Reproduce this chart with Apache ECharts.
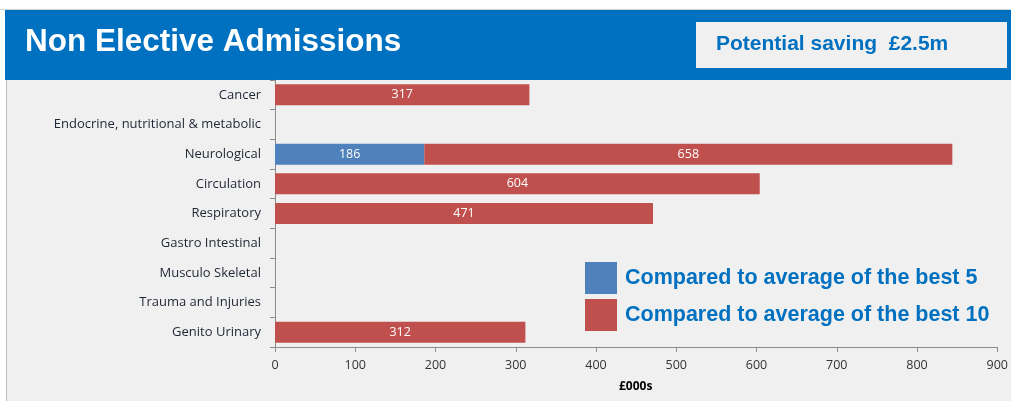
<!DOCTYPE html>
<html><head><meta charset="utf-8">
<script src="https://cdn.jsdelivr.net/npm/echarts@6/dist/echarts.min.js"></script>
<style>html,body{margin:0;padding:0;background:#fff;}#c{width:1011px;height:401px;}</style>
</head><body><div id="c"></div>
<script>
const categories = ["Cancer","Endocrine, nutritional & metabolic","Neurological","Circulation","Respiratory","Gastro Intestinal","Musculo Skeletal","Trauma and Injuries","Genito Urinary"];
const best5 = [null, null, 186, null, null, null, null, null, null];
const best10 = [317, null, 658, 604, 471, null, null, null, 312];
const seriesNames = ["Compared to average of the best 5","Compared to average of the best 10"];
const title = "Non Elective Admissions";
const saving = "Potential saving  £2.5m";
const axisName = "£000s";

const chart = echarts.init(document.getElementById('c'), null, {renderer:'canvas'});
const labelStyle = {show:true, position:'inside', color:'#fff', fontSize:12.5, fontFamily:'"Open Sans", sans-serif'};
chart.setOption({
  animation:false,
  backgroundColor:'#fff',
  graphic:[
    {type:'rect', left:6, top:80, shape:{width:1005, height:321}, style:{fill:'#f0f0f0'}, z:-10},
    {type:'rect', left:6, top:80, shape:{width:1, height:321}, style:{fill:'#bfbfbf'}, z:-9},
    {type:'rect', left:0, top:9, shape:{width:1011, height:1}, style:{fill:'#d0d0d0'}, z:-9},
    {type:'rect', left:5, top:10, shape:{width:1006, height:70}, style:{fill:'#0070c0'}, z:-8},
    {type:'text', left:25, top:26, style:{text:title, fill:'#fff', font:'bold 31.5px "Liberation Sans", Arial, sans-serif'}},
    {type:'rect', left:696, top:22, shape:{width:311, height:46}, style:{fill:'#f0f0f0'}},
    {type:'text', left:716, top:34, style:{text:saving, fill:'#0070c0', font:'bold 21px "Liberation Sans", Arial, sans-serif'}},
    {type:'text', left:619, top:381, style:{text:axisName, fill:'#000', font:'bold 12px "Open Sans", sans-serif'}}
  ],
  legend:{
    orient:'vertical', left:585, top:262, itemWidth:32, itemHeight:32, itemGap:5, padding:0,
    icon:'rect',
    textStyle:{color:'#0070c0', fontSize:21.5, fontWeight:'bold', fontFamily:'"Liberation Sans", Arial, sans-serif', padding:[0,0,0,3]},
    data:seriesNames
  },
  grid:{left:275, right:13, top:80, bottom:54, containLabel:false},
  xAxis:{
    type:'value', min:0, max:900, interval:100,
    axisLine:{show:true, lineStyle:{color:'#8c8c8c'}},
    axisTick:{show:true, length:5, lineStyle:{color:'#8c8c8c'}},
    splitLine:{show:false},
    axisLabel:{color:'#333', fontSize:12.5, margin:12, fontFamily:'"Open Sans", sans-serif'}
  },
  yAxis:{
    type:'category', data:categories, inverse:true,
    axisLine:{show:true, lineStyle:{color:'#8c8c8c'}},
    axisTick:{show:true, length:5, lineStyle:{color:'#8c8c8c'}},
    axisLabel:{color:'#1f2633', fontSize:13, margin:14, padding:[2,0,0,0], fontFamily:'"Open Sans", sans-serif'}
  },
  series:[
    {name:seriesNames[0], type:'bar', stack:'t', data:best5, barWidth:21, itemStyle:{color:'#4f81bd'}, label:labelStyle},
    {name:seriesNames[1], type:'bar', stack:'t', data:best10, barWidth:21, itemStyle:{color:'#c0504d'}, label:labelStyle}
  ]
});
</script></body></html>
